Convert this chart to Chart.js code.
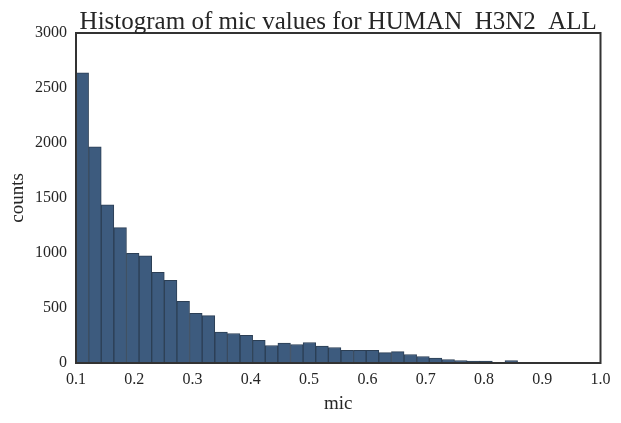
<!DOCTYPE html>
<html>
<head>
<meta charset="utf-8">
<script src="https://cdn.jsdelivr.net/npm/chart.js@4.4.1/dist/chart.umd.min.js"></script>
<style>
  html, body { margin: 0; padding: 0; background: #ffffff; }
  #wrap { width: 621px; height: 423px; position: relative; }
</style>
</head>
<body>
<div id="wrap"><canvas id="c"></canvas></div>
<script>
// ---- data ----
const chartTitle = 'Histogram of mic values for HUMAN  H3N2  ALL';
const xLabel = 'mic';
const yLabel = 'counts';
// centers of the 40 histogram bins (mic values)
const binCenters = [
  0.1108, 0.1325, 0.1541, 0.1758, 0.1974, 0.2191, 0.2407, 0.2624, 0.2840, 0.3057,
  0.3273, 0.3490, 0.3706, 0.3923, 0.4139, 0.4356, 0.4572, 0.4789, 0.5005, 0.5222,
  0.5438, 0.5655, 0.5871, 0.6088, 0.6304, 0.6521, 0.6737, 0.6954, 0.7170, 0.7387,
  0.7603, 0.7820, 0.8036, 0.8253, 0.8469, 0.8686, 0.8902, 0.9119, 0.9335, 0.9552
];
const binCounts = [
  2639, 1965, 1438, 1230, 996, 975, 824, 751, 561, 452,
  431, 280, 268, 252, 205, 159, 180, 168, 186, 153,
  141, 116, 116, 116, 95, 104, 77, 59, 45, 32,
  23, 17, 17, 7, 23, 6, 6, 5, 2, 1
];
const xTicks = [0.1, 0.2, 0.3, 0.4, 0.5, 0.6, 0.7, 0.8, 0.9, 1.0];
const yTicks = [0, 500, 1000, 1500, 2000, 2500, 3000];

// ---- chart ----
const FONT = "'Liberation Serif', 'Times New Roman', serif";
const TEXT = '#262626';
Chart.defaults.font.family = FONT;
Chart.defaults.color = TEXT;

const framePlugin = {
  id: 'frameAndTitle',
  afterDraw(chart) {
    const { ctx, chartArea: a } = chart;
    ctx.save();
    ctx.strokeStyle = '#333333';
    ctx.lineWidth = 2;
    ctx.strokeRect(a.left, a.top, a.right - a.left, a.bottom - a.top);
    ctx.fillStyle = TEXT;
    ctx.font = "25px " + FONT;
    ctx.textAlign = 'center';
    ctx.textBaseline = 'alphabetic';
    ctx.fillText(chartTitle, (a.left + a.right) / 2, 28.5);
    ctx.restore();
  }
};

new Chart(document.getElementById('c'), {
  type: 'bar',
  data: {
    datasets: [{
      data: binCenters.map((x, i) => ({ x: x, y: binCounts[i] })),
      backgroundColor: '#3d5b7e',
      borderColor: '#2c3f55',
      borderWidth: 1,
      barPercentage: 1.0,
      categoryPercentage: 1.0,
      grouped: false
    }]
  },
  options: {
    responsive: true,
    maintainAspectRatio: false,
    animation: false,
    layout: { padding: { top: 33, right: 20.5, left: 0, bottom: 0 } },
    plugins: {
      legend: { display: false },
      title: { display: false },
      tooltip: { enabled: false }
    },
    scales: {
      x: {
        type: 'linear',
        min: 0.1,
        max: 1.0,
        offset: false,
        grid: { display: false, drawTicks: false },
        border: { display: false },
        afterBuildTicks(scale) { scale.ticks = xTicks.map(v => ({ value: v })); },
        afterFit(scale) { scale.height = 60; },
        ticks: {
          padding: 7.5,
          maxRotation: 0,
          font: { size: 16, family: FONT },
          color: TEXT,
          callback: v => v.toFixed(1)
        },
        title: {
          display: true,
          text: xLabel,
          font: { size: 19, family: FONT },
          color: TEXT,
          padding: { top: 0, bottom: 8 }
        }
      },
      y: {
        min: 0,
        max: 3000,
        grid: { display: false, drawTicks: false },
        border: { display: false },
        afterBuildTicks(scale) { scale.ticks = yTicks.map(v => ({ value: v })); },
        afterFit(scale) { scale.width = 76; },
        ticks: {
          padding: 9,
          font: { size: 16, family: FONT },
          color: TEXT,
          callback: v => String(v)
        },
        title: {
          display: true,
          text: yLabel,
          font: { size: 19, family: FONT },
          color: TEXT,
          padding: { top: 7, bottom: 0 }
        }
      }
    }
  },
  plugins: [framePlugin]
});
</script>
</body>
</html>
